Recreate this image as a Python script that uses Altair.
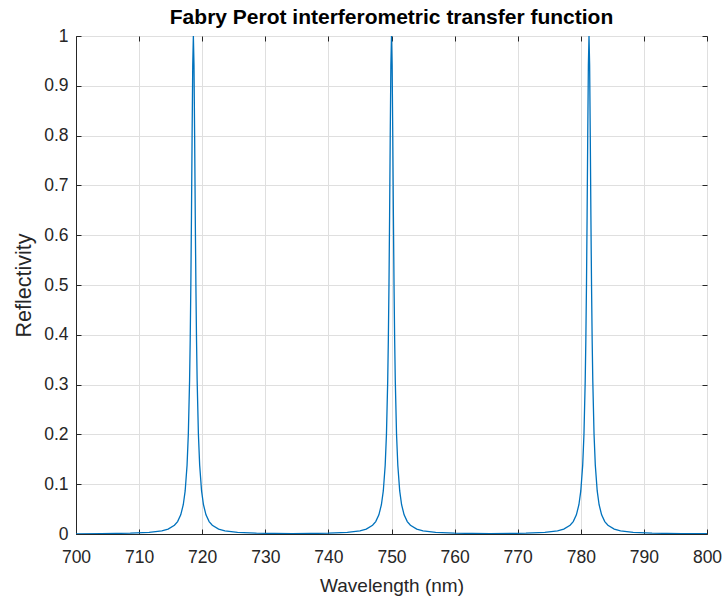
import altair as alt
import pandas as pd

# Peak 1 (~718.6 nm)
peak1_nm = [700.0, 704.0, 708.6, 711.6, 713.6, 714.6, 715.6, 716.1, 716.6, 717.0, 717.3, 717.6,
            717.8, 718.0, 718.1, 718.2, 718.3, 718.4, 718.5, 718.6, 718.7, 718.8, 718.9, 719.0,
            719.1, 719.2, 719.4, 719.6, 719.9, 720.2, 720.6, 721.1, 721.6, 722.6, 723.6, 725.6,
            728.6, 734.3]
peak1_r = [0.0004, 0.0007, 0.0016, 0.0033, 0.0064, 0.0099, 0.0175, 0.025, 0.0385, 0.0588, 0.0865, 0.138,
           0.20, 0.308, 0.39, 0.50, 0.64, 0.80, 0.941, 1.0, 0.941, 0.80, 0.64, 0.50,
           0.39, 0.308, 0.20, 0.138, 0.0865, 0.0588, 0.0385, 0.025, 0.0175, 0.0099, 0.0064, 0.0033,
           0.0016, 0.0006]

# Peak 2 (~750.0 nm)
peak2_nm = [740.0, 743.0, 745.0, 746.0, 747.0, 747.5, 748.0, 748.4, 748.7, 749.0,
            749.2, 749.4, 749.5, 749.6, 749.7, 749.8, 749.9, 750.0, 750.1, 750.2, 750.3, 750.4,
            750.5, 750.6, 750.8, 751.0, 751.3, 751.6, 752.0, 752.5, 753.0, 754.0, 755.0, 757.0,
            760.0, 765.65]
peak2_r = [0.0016, 0.0033, 0.0064, 0.0099, 0.0175, 0.025, 0.0385, 0.0588, 0.0865, 0.138,
           0.20, 0.308, 0.39, 0.50, 0.64, 0.80, 0.941, 1.0, 0.941, 0.80, 0.64, 0.50,
           0.39, 0.308, 0.20, 0.138, 0.0865, 0.0588, 0.0385, 0.025, 0.0175, 0.0099, 0.0064, 0.0033,
           0.0016, 0.0006]

# Peak 3 (~781.3 nm)
peak3_nm = [771.3, 774.3, 776.3, 777.3, 778.3, 778.8, 779.3, 779.7, 780.0, 780.3,
            780.5, 780.7, 780.8, 780.9, 781.0, 781.1, 781.2, 781.3, 781.4, 781.5, 781.6, 781.7,
            781.8, 781.9, 782.1, 782.3, 782.6, 782.9, 783.3, 783.8, 784.3, 785.3, 786.3, 788.3,
            791.3, 796.0, 800.0]
peak3_r = [0.0016, 0.0033, 0.0064, 0.0099, 0.0175, 0.025, 0.0385, 0.0588, 0.0865, 0.138,
           0.20, 0.308, 0.39, 0.50, 0.64, 0.80, 0.941, 1.0, 0.941, 0.80, 0.64, 0.50,
           0.39, 0.308, 0.20, 0.138, 0.0865, 0.0588, 0.0385, 0.025, 0.0175, 0.0099, 0.0064, 0.0033,
           0.0016, 0.0008, 0.0006]

x_ticks = [700, 710, 720, 730, 740, 750, 760, 770, 780, 790, 800]
y_ticks = [0, 0.1, 0.2, 0.3, 0.4, 0.5, 0.6, 0.7, 0.8, 0.9, 1]

df = pd.DataFrame({
    "wl": peak1_nm + peak2_nm + peak3_nm,
    "r": peak1_r + peak2_r + peak3_r,
})

FONT = "Liberation Sans"
TXT = "#262626"
GRID = "#dfdfdf"

xs = alt.Scale(domain=[700, 800], nice=False)
ys = alt.Scale(domain=[0, 1], nice=False)

base = alt.Chart(df)

main = base.mark_line(color="#0072BD", strokeWidth=1.3, clip=True).encode(
    x=alt.X("wl:Q", scale=xs, axis=alt.Axis(
        values=x_ticks, title="Wavelength (nm)", format="d",
        grid=True, gridColor=GRID, ticks=False, domain=True, domainColor=TXT,
        labelFont=FONT, labelFontSize=17.5, labelColor=TXT, labelPadding=14,
        titleFont=FONT, titleFontSize=19, titleFontWeight="normal", titleColor=TXT,
        titlePadding=11, labelFlush=False)),
    y=alt.Y("r:Q", scale=ys, axis=alt.Axis(
        values=y_ticks, title="Reflectivity", format="~g",
        grid=True, gridColor=GRID, ticks=False, domain=True, domainColor=TXT,
        labelFont=FONT, labelFontSize=17.5, labelColor=TXT, labelPadding=8,
        titleFont=FONT, titleFontSize=21.5, titleFontWeight="normal", titleColor=TXT,
        titlePadding=8, labelFlush=False)),
)

ticks_in = base.mark_line(opacity=0).encode(
    x=alt.X("wl:Q", scale=xs, axis=alt.Axis(
        orient="bottom", values=x_ticks, labels=False, title=None, grid=False,
        domain=False, ticks=True, tickSize=5, tickColor=TXT, offset=-5)),
    y=alt.Y("r:Q", scale=ys, axis=alt.Axis(
        orient="left", values=y_ticks, labels=False, title=None, grid=False,
        domain=False, ticks=True, tickSize=5, tickColor=TXT, offset=-5)),
)

ticks_out = base.mark_line(opacity=0).encode(
    x=alt.X("wl:Q", scale=xs, axis=alt.Axis(
        orient="top", values=x_ticks, labels=False, title=None, grid=False,
        domain=False, ticks=True, tickSize=5, tickColor=TXT, offset=-5)),
    y=alt.Y("r:Q", scale=ys, axis=alt.Axis(
        orient="right", values=y_ticks, labels=False, title=None, grid=False,
        domain=False, ticks=True, tickSize=5, tickColor=TXT, offset=-5)),
)

chart = alt.layer(main, ticks_in, ticks_out).resolve_axis(
    x="independent", y="independent"
).resolve_scale(x="shared", y="shared").properties(
    width=631, height=498,
    title=alt.TitleParams("Fabry Perot interferometric transfer function",
                          font=FONT, fontSize=21, fontWeight="bold", color="#000000",
                          anchor="middle", offset=-1),
    padding={"left": 76, "top": 36, "right": 18, "bottom": 65},
    autosize=alt.AutoSizeParams(type="none"),
).configure_view(stroke="#404040", strokeWidth=1).configure(background="white")

chart.save("out.html", embed_options={"renderer": "svg", "actions": False})
